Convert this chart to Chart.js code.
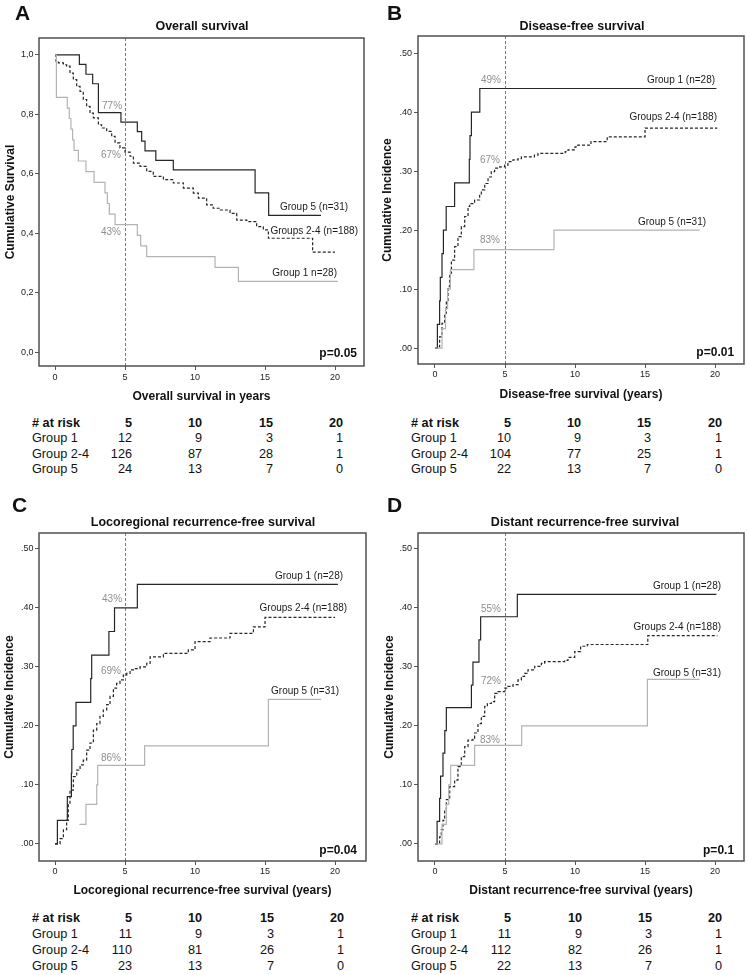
<!DOCTYPE html>
<html><head><meta charset="utf-8">
<script src="https://cdn.jsdelivr.net/npm/chart.js@4.4.1/dist/chart.umd.min.js"></script>
<style>
body{margin:0;background:#fff;}
#fig{position:relative;width:748px;height:975px;overflow:hidden;font-family:"Liberation Sans",Arial,sans-serif;color:#111;background:#fff;}
canvas{position:absolute;}
.t{position:absolute;white-space:nowrap;height:16px;line-height:16px;}
</style></head><body><div id="fig">
<canvas id="cA" width="374" height="410" style="left:0;top:0"></canvas>
<canvas id="cB" width="374" height="410" style="left:374px;top:0"></canvas>
<canvas id="cC" width="374" height="410" style="left:0;top:490px"></canvas>
<canvas id="cD" width="374" height="410" style="left:374px;top:490px"></canvas>
</div>
<script>
// ---------- tick labels ----------
const xTicks = [0, 5, 10, 15, 20];
const xTickLabels = ['0', '5', '10', '15', '20'];
const yTicksOS = [0, 0.2, 0.4, 0.6, 0.8, 1.0];
const yTickLabelsOS = ['0,0', '0,2', '0,4', '0,6', '0,8', '1,0'];
const yTicksCI = [0, 0.1, 0.2, 0.3, 0.4, 0.5];
const yTickLabelsCI = ['.00', '.10', '.20', '.30', '.40', '.50'];

// ---------- A: Overall survival ----------
const osG1Time = [0, 0.1, 0.88, 1.02, 1.14, 1.26, 1.36, 1.67, 2.21, 2.79, 3.57, 3.74, 3.88, 4.29, 5.88, 6.12, 6.55, 11.43, 13.1, 20.2];
const osG1Surv = [1, 0.857, 0.821, 0.786, 0.75, 0.714, 0.679, 0.643, 0.607, 0.571, 0.536, 0.5, 0.464, 0.429, 0.393, 0.357, 0.321, 0.285, 0.238, 0.238];
const osG24Time = [0, 0.07, 0.24, 0.6, 0.83, 1.07, 1.31, 1.55, 1.79, 2.02, 2.26, 2.5, 2.74, 3.1, 3.33, 3.69, 4.05, 4.29, 4.64, 5.0, 5.36, 5.6, 6.07, 6.55, 7.02, 7.74, 8.45, 9.17, 9.88, 10.24, 10.83, 11.3, 11.8, 12.5, 12.98, 13.7, 14.4, 14.88, 15.24, 18.4, 20.0];
const osG24Surv = [1, 0.979, 0.973, 0.967, 0.962, 0.939, 0.917, 0.894, 0.877, 0.85, 0.827, 0.804, 0.788, 0.765, 0.754, 0.743, 0.726, 0.704, 0.687, 0.673, 0.659, 0.636, 0.625, 0.608, 0.591, 0.58, 0.569, 0.552, 0.535, 0.518, 0.495, 0.484, 0.478, 0.467, 0.444, 0.439, 0.422, 0.411, 0.383, 0.336, 0.336];
const osG5Time = [0, 1.74, 2.21, 2.69, 3.1, 4.71, 5.88, 6.19, 6.43, 7.2, 8.45, 14.29, 15.26, 19.0];
const osG5Surv = [1, 0.968, 0.935, 0.903, 0.806, 0.774, 0.742, 0.71, 0.677, 0.645, 0.613, 0.536, 0.46, 0.46];

// ---------- B: Disease-free survival (cumulative incidence) ----------
const dfsG1Time = [0, 0.17, 0.33, 0.38, 0.5, 0.6, 0.8, 1.4, 2.45, 2.5, 2.6, 3.2, 20.1];
const dfsG1Inc = [0, 0.04, 0.08, 0.12, 0.16, 0.2, 0.24, 0.28, 0.32, 0.36, 0.4, 0.44, 0.44];
const dfsG24Time = [0, 0.17, 0.33, 0.5, 0.69, 0.81, 0.93, 1.05, 1.17, 1.4, 1.64, 1.88, 2.12, 2.36, 2.48, 2.83, 3.19, 3.31, 3.55, 3.79, 4.02, 4.26, 4.62, 4.98, 5.21, 5.57, 5.93, 6.17, 7.1, 7.36, 9.3, 9.5, 10.0, 10.2, 11.14, 12.3, 15.0, 20.17];
const dfsG24Inc = [0, 0.002, 0.019, 0.042, 0.059, 0.081, 0.104, 0.127, 0.149, 0.172, 0.189, 0.206, 0.223, 0.24, 0.245, 0.251, 0.259, 0.268, 0.279, 0.29, 0.299, 0.305, 0.307, 0.31, 0.316, 0.319, 0.321, 0.324, 0.327, 0.33, 0.333, 0.336, 0.341, 0.344, 0.35, 0.358, 0.373, 0.373];
const dfsG5Time = [0, 0.5, 0.75, 0.9, 1.1, 2.78, 8.5, 18.9];
const dfsG5Inc = [0, 0.033, 0.067, 0.1, 0.133, 0.167, 0.2, 0.2];

// ---------- C: Locoregional recurrence-free survival ----------
const lrG1Time = [0, 0.17, 0.88, 1.17, 1.2, 1.3, 1.5, 2.55, 2.62, 3.85, 4.25, 5.88, 20.2];
const lrG1Inc = [0, 0.04, 0.08, 0.12, 0.16, 0.2, 0.24, 0.28, 0.32, 0.36, 0.4, 0.44, 0.44];
const lrG24Time = [0, 0.36, 0.6, 0.83, 0.95, 1.07, 1.31, 1.55, 1.79, 2.02, 2.26, 2.5, 2.74, 2.98, 3.21, 3.45, 3.69, 3.93, 4.17, 4.4, 4.64, 4.88, 5.12, 5.36, 5.6, 6.07, 6.55, 6.79, 7.74, 9.52, 10.0, 11.07, 12.5, 14.17, 15.0, 20.0];
const lrG24Inc = [0, 0.009, 0.024, 0.04, 0.069, 0.091, 0.114, 0.125, 0.134, 0.142, 0.159, 0.171, 0.193, 0.204, 0.216, 0.227, 0.236, 0.25, 0.264, 0.272, 0.278, 0.286, 0.289, 0.295, 0.297, 0.3, 0.306, 0.317, 0.323, 0.329, 0.343, 0.349, 0.357, 0.368, 0.384, 0.384];
const lrG5Time = [1.74, 2.21, 2.98, 3.05, 6.4, 15.24, 19.0];
const lrG5Inc = [0.033, 0.067, 0.1, 0.133, 0.166, 0.245, 0.245];

// ---------- D: Distant recurrence-free survival ----------
const drG1Time = [0, 0.15, 0.33, 0.4, 0.57, 0.7, 0.81, 2.6, 2.71, 3.14, 3.26, 5.88, 20.1];
const drG1Inc = [0, 0.038, 0.077, 0.115, 0.154, 0.192, 0.231, 0.269, 0.308, 0.346, 0.385, 0.423, 0.423];
const drG24Time = [0, 0.33, 0.45, 0.57, 0.69, 0.81, 1.05, 1.4, 1.64, 1.88, 2.12, 2.36, 2.71, 2.83, 3.07, 3.31, 3.55, 3.74, 4.02, 4.26, 4.5, 4.98, 5.21, 5.57, 5.93, 6.17, 6.4, 6.64, 7.12, 7.6, 7.83, 9.26, 9.5, 9.98, 10.4, 10.88, 15.2, 20.17];
const drG24Inc = [0, 0.012, 0.024, 0.04, 0.058, 0.075, 0.097, 0.108, 0.131, 0.148, 0.165, 0.176, 0.179, 0.188, 0.204, 0.216, 0.233, 0.238, 0.241, 0.255, 0.258, 0.264, 0.267, 0.27, 0.278, 0.284, 0.289, 0.295, 0.301, 0.306, 0.309, 0.311, 0.316, 0.326, 0.335, 0.338, 0.353, 0.353];
const drG5Time = [0, 0.5, 0.81, 0.98, 1.12, 2.83, 6.19, 15.17, 18.9];
const drG5Inc = [0, 0.033, 0.067, 0.1, 0.133, 0.167, 0.2, 0.279, 0.279];

// ---------- at-risk tables ----------
const riskYears = ['5', '10', '15', '20'];
const riskGroups = ['Group 1', 'Group 2-4', 'Group 5'];
const osRisk = [[12, 9, 3, 1], [126, 87, 28, 1], [24, 13, 7, 0]];
const dfsRisk = [[10, 9, 3, 1], [104, 77, 25, 1], [22, 13, 7, 0]];
const lrRisk = [[11, 9, 3, 1], [110, 81, 26, 1], [23, 13, 7, 0]];
const drRisk = [[11, 9, 3, 1], [112, 82, 26, 1], [22, 13, 7, 0]];

// ---------- styling ----------
const FONT = '"Liberation Sans", Arial, sans-serif';
const DARK = '#262626', LIGHT = '#b3b3b3', PCT = '#8f8f8f';
const fig = document.getElementById('fig');

function addText(text, x, cy, o) {
  o = o || {};
  const d = document.createElement('div');
  d.className = 't';
  d.textContent = text;
  d.style.top = (cy - 8) + 'px';
  d.style.fontSize = (o.size || 12.7) + 'px';
  if (o.bold) d.style.fontWeight = 'bold';
  if (o.align === 'right') { d.style.left = (x - 150) + 'px'; d.style.width = '150px'; d.style.textAlign = 'right'; }
  else if (o.align === 'center') { d.style.left = (x - 200) + 'px'; d.style.width = '400px'; d.style.textAlign = 'center'; }
  else d.style.left = x + 'px';
  if (o.lh) { d.style.height = o.lh + 'px'; d.style.lineHeight = o.lh + 'px'; d.style.top = (cy - o.lh / 2) + 'px'; }
  fig.appendChild(d);
}
function riskTable(left, cols, yHead, dy, risk) {
  addText('# at risk', left, yHead, {bold: true});
  riskYears.forEach((y, j) => addText(y, cols[j], yHead, {bold: true, align: 'right'}));
  riskGroups.forEach((g, i) => {
    const cy = yHead + dy * (i + 1);
    addText(g, left, cy);
    risk[i].forEach((v, j) => addText(String(v), cols[j], cy, {align: 'right'}));
  });
}

const framePlugin = {
  id: 'frame',
  beforeDatasetsDraw(chart) {
    const {ctx, chartArea: a, scales} = chart;
    const x5 = Math.round(scales.x.getPixelForValue(5)) + 0.5;
    ctx.save();
    ctx.strokeStyle = '#7a7a7a'; ctx.lineWidth = 1; ctx.setLineDash([3, 2]);
    ctx.beginPath(); ctx.moveTo(x5, a.top); ctx.lineTo(x5, a.bottom); ctx.stroke();
    ctx.restore();
  },
  afterDatasetsDraw(chart, args, opts) {
    const {ctx, scales} = chart;
    ctx.save();
    (opts.notes || []).forEach(n => {
      ctx.font = (n.bold ? 'bold ' : '') + (n.size || 10) + 'px ' + FONT;
      ctx.fillStyle = n.color || '#1a1a1a';
      ctx.textAlign = 'right'; ctx.textBaseline = 'middle';
      ctx.fillText(n.text, scales.x.getPixelForValue(n.x), scales.y.getPixelForValue(n.y));
    });
    ctx.restore();
  },
  afterDraw(chart) {
    const {ctx, chartArea: a} = chart;
    ctx.save();
    ctx.strokeStyle = '#505050'; ctx.lineWidth = 1.5;
    ctx.strokeRect(a.left, a.top, a.right - a.left, a.bottom - a.top);
    ctx.restore();
  }
};

function series(t, v, color, dash) {
  return {
    data: t.map((x, i) => ({x: x, y: v[i]})),
    borderColor: color, borderWidth: 1.2, borderDash: dash || [],
    stepped: true, pointRadius: 0, fill: false, tension: 0
  };
}

function makeChart(id, c) {
  new Chart(document.getElementById(id), {
    type: 'line',
    data: {datasets: c.datasets},
    options: {
      responsive: false, animation: false, devicePixelRatio: 1,
      layout: {padding: {left: 0, right: c.padR, top: c.padT, bottom: 0}},
      plugins: {legend: {display: false}, tooltip: {enabled: false}, frame: {notes: c.notes}},
      scales: {
        x: {
          type: 'linear', min: c.xMin, max: c.xMax,
          afterBuildTicks: s => { s.ticks = xTicks.map(v => ({value: v})); },
          afterFit: s => { s.height = c.xH; },
          ticks: {autoSkip: false, maxRotation: 0, padding: c.xPad, color: '#222', font: {size: 9, family: FONT},
                  callback: (v, i) => xTickLabels[i]},
          grid: {drawOnChartArea: false, drawTicks: true, tickLength: 4, color: '#555'},
          border: {display: false},
          title: {display: true, text: c.xTitle, color: '#111', font: {size: 12, weight: 'bold', family: FONT},
                  padding: {top: 0, bottom: c.xTitlePb}}
        },
        y: {
          type: 'linear', min: c.yMin, max: c.yMax,
          afterBuildTicks: s => { s.ticks = c.yTicks.map(v => ({value: v})); },
          afterFit: s => { s.width = c.yW; },
          ticks: {autoSkip: false, padding: c.yPad, color: '#222', font: {size: 9, family: FONT},
                  callback: (v, i) => c.yLabels[i]},
          grid: {drawOnChartArea: false, drawTicks: true, tickLength: 4, color: '#555'},
          border: {display: false},
          title: {display: true, text: c.yTitle, color: '#111', font: {size: 12, weight: 'bold', family: FONT},
                  padding: {top: c.yTitlePt, bottom: 0}}
        }
      }
    },
    plugins: [framePlugin]
  });
}

makeChart('cA', {
  datasets: [series(osG1Time, osG1Surv, LIGHT), series(osG24Time, osG24Surv, DARK, [3, 2]), series(osG5Time, osG5Surv, DARK)],
  xMin: -1.143, xMax: 22.07, yMin: -0.047, yMax: 1.057, padT: 38, padR: 10, yW: 39, xH: 44,
  xPad: 2.6, yPad: 1.5, yTitlePt: 3.8, xTitlePb: 5.8,
  yTicks: yTicksOS, yLabels: yTickLabelsOS,
  xTitle: 'Overall survival in years', yTitle: 'Cumulative Survival',
  notes: [
    {text: 'Group 5 (n=31)', x: 20.93, y: 0.488},
    {text: 'Groups 2-4 (n=188)', x: 21.64, y: 0.407},
    {text: 'Group 1 n=28)', x: 20.14, y: 0.266},
    {text: '77%', x: 4.79, y: 0.828, color: PCT},
    {text: '67%', x: 4.71, y: 0.663, color: PCT},
    {text: '43%', x: 4.71, y: 0.404, color: PCT},
    {text: 'p=0.05', x: 21.57, y: -0.007, bold: true, size: 12, color: '#111'}
  ]
});
makeChart('cB', {
  datasets: [series(dfsG5Time, dfsG5Inc, LIGHT), series(dfsG24Time, dfsG24Inc, DARK, [3, 2]), series(dfsG1Time, dfsG1Inc, DARK)],
  xMin: -1.214, xMax: 22.07, yMin: -0.027, yMax: 0.529, padT: 36, padR: 4, yW: 44, xH: 46,
  xPad: 1.6, yPad: 2, yTitlePt: 6.8, xTitlePb: 7.8,
  yTicks: yTicksCI, yLabels: yTickLabelsCI,
  xTitle: 'Disease-free survival (years)', yTitle: 'Cumulative Incidence',
  notes: [
    {text: 'Group 1 (n=28)', x: 20.0, y: 0.454},
    {text: 'Groups 2-4 (n=188)', x: 20.14, y: 0.392},
    {text: 'Group 5 (n=31)', x: 19.36, y: 0.214},
    {text: '49%', x: 4.71, y: 0.454, color: PCT},
    {text: '67%', x: 4.64, y: 0.319, color: PCT},
    {text: '83%', x: 4.64, y: 0.183, color: PCT},
    {text: 'p=0.01', x: 21.36, y: -0.008, bold: true, size: 12, color: '#111'}
  ]
});
makeChart('cC', {
  datasets: [series(lrG5Time, lrG5Inc, LIGHT), series(lrG24Time, lrG24Inc, DARK, [3, 2]), series(lrG1Time, lrG1Inc, DARK)],
  xMin: -1.143, xMax: 22.21, yMin: -0.029, yMax: 0.527, padT: 43, padR: 8, yW: 39, xH: 39,
  xPad: 1.6, yPad: 1.5, yTitlePt: 2.8, xTitlePb: 1.8,
  yTicks: yTicksCI, yLabels: yTickLabelsCI,
  xTitle: 'Locoregional recurrence-free survival (years)', yTitle: 'Cumulative Incidence',
  notes: [
    {text: 'Group 1 (n=28)', x: 20.57, y: 0.454},
    {text: 'Groups 2-4 (n=188)', x: 20.86, y: 0.4},
    {text: 'Group 5 (n=31)', x: 20.29, y: 0.258},
    {text: '43%', x: 4.79, y: 0.414, color: PCT},
    {text: '69%', x: 4.71, y: 0.293, color: PCT},
    {text: '86%', x: 4.71, y: 0.146, color: PCT},
    {text: 'p=0.04', x: 21.57, y: -0.012, bold: true, size: 12, color: '#111'}
  ]
});
makeChart('cD', {
  datasets: [series(drG5Time, drG5Inc, LIGHT), series(drG24Time, drG24Inc, DARK, [3, 2]), series(drG1Time, drG1Inc, DARK)],
  xMin: -1.214, xMax: 22.07, yMin: -0.029, yMax: 0.527, padT: 43, padR: 4, yW: 44, xH: 39,
  xPad: 1.6, yPad: 2, yTitlePt: 8.3, xTitlePb: 1.8,
  yTicks: yTicksCI, yLabels: yTickLabelsCI,
  xTitle: 'Distant recurrence-free survival (years)', yTitle: 'Cumulative Incidence',
  notes: [
    {text: 'Group 1 (n=28)', x: 20.43, y: 0.436},
    {text: 'Groups 2-4 (n=188)', x: 20.43, y: 0.368},
    {text: 'Group 5 (n=31)', x: 20.43, y: 0.29},
    {text: '55%', x: 4.71, y: 0.397, color: PCT},
    {text: '72%', x: 4.71, y: 0.276, color: PCT},
    {text: '83%', x: 4.64, y: 0.176, color: PCT},
    {text: 'p=0.1', x: 21.36, y: -0.012, bold: true, size: 12, color: '#111'}
  ]
});

// panel letters and titles
addText('A', 15, 13, {bold: true, size: 21, lh: 24});
addText('B', 387, 13, {bold: true, size: 21, lh: 24});
addText('C', 12, 505, {bold: true, size: 21, lh: 24});
addText('D', 387, 505, {bold: true, size: 21, lh: 24});
addText('Overall survival', 202, 26, {bold: true, size: 12.5, align: 'center'});
addText('Disease-free survival', 582, 26, {bold: true, size: 12.5, align: 'center'});
addText('Locoregional recurrence-free survival', 203, 522, {bold: true, size: 12.5, align: 'center'});
addText('Distant recurrence-free survival', 585, 522, {bold: true, size: 12.5, align: 'center'});

// at-risk tables
riskTable(32, [132, 202, 273, 343], 422.7, 15.4, osRisk);
riskTable(411, [511, 581, 651, 722], 423, 15.4, dfsRisk);
riskTable(32, [132, 202, 274, 344], 918.3, 15.8, lrRisk);
riskTable(411, [511, 582, 652, 722], 918.3, 15.8, drRisk);
</script>
</body></html>
